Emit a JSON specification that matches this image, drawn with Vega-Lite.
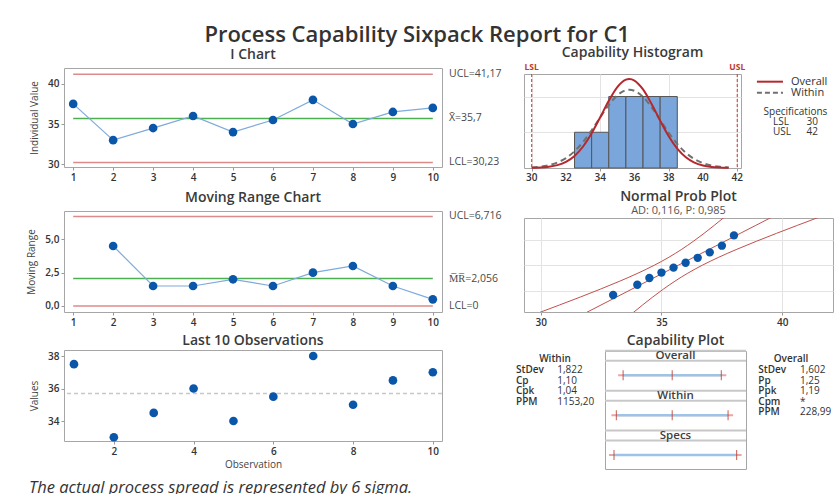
{
"$schema":"https://vega.github.io/schema/vega-lite/v6.json",
"padding":{"left":26,"top":23,"right":5,"bottom":5},
"background":"white",
"title":{"text":"Process Capability Sixpack Report for C1","fontSize":22,"fontWeight":600,"color":"#333","frame":"bounds","anchor":"middle","offset":-1,"dx":-13},
"config":{
 "font":"Open Sans",
 "view":{"stroke":"#a6a6a6","strokeWidth":1},
 "axis":{"labelFont":"Open Sans","labelFontSize":10,"labelFontWeight":600,"labelColor":"#333","titleFont":"Open Sans","titleFontSize":10,"titleFontWeight":"normal","titleColor":"#444","domain":false,"grid":false,"tickColor":"#999","tickSize":3,"labelPadding":2,"titlePadding":4,"gridColor":"#e3e3e3"},
 "axisY":{"titlePadding":8},
 "title":{"font":"Open Sans","fontSize":14,"fontWeight":600,"color":"#3a3a3a","anchor":"middle","frame":"group"},
 "text":{"font":"Open Sans","color":"#333"}
},
"datasets":{
 "obs":[{"obs":1,"value":37.5,"mr":null},{"obs":2,"value":33,"mr":4.5},{"obs":3,"value":34.5,"mr":1.5},{"obs":4,"value":36,"mr":1.5},{"obs":5,"value":34,"mr":2},{"obs":6,"value":35.5,"mr":1.5},{"obs":7,"value":38,"mr":2.5},{"obs":8,"value":35,"mr":3},{"obs":9,"value":36.5,"mr":1.5},{"obs":10,"value":37,"mr":0.5}],
 "ilimits":[{"label":"UCL=41,17","value":41.17,"kind":"ucl"},{"label":"X̄=35,7","value":35.7,"kind":"center"},{"label":"LCL=30,23","value":30.23,"kind":"lcl"}],
 "mrlimits":[{"label":"UCL=6,716","value":6.716,"kind":"ucl"},{"label":"M̅R̅=2,056","value":2.056,"kind":"center"},{"label":"LCL=0","value":0,"kind":"lcl"}],
 "hist":[{"lo":32.5,"hi":33.5,"count":1},{"lo":33.5,"hi":34.5,"count":1},{"lo":34.5,"hi":35.5,"count":2},{"lo":35.5,"hi":36.5,"count":2},{"lo":36.5,"hi":37.5,"count":2},{"lo":37.5,"hi":38.5,"count":2}],
 "histTicks":[{"v":30},{"v":32},{"v":34},{"v":36},{"v":38},{"v":40},{"v":42}],
 "curves":[{"x":30,"overall":0.0044,"within":0.0164},{"x":30.5,"overall":0.0128,"within":0.0373},{"x":31,"overall":0.0337,"within":0.0786},{"x":31.5,"overall":0.0801,"within":0.1536},{"x":32,"overall":0.173,"within":0.2785},{"x":32.5,"overall":0.3387,"within":0.4683},{"x":33,"overall":0.6017,"within":0.7304},{"x":33.5,"overall":0.97,"within":1.0563},{"x":34,"overall":1.4183,"within":1.4169},{"x":34.5,"overall":1.8809,"within":1.7626},{"x":35,"overall":2.2636,"within":2.0338},{"x":35.5,"overall":2.471,"within":2.1764},{"x":35.7,"overall":2.4903,"within":2.1896},{"x":36,"overall":2.447,"within":2.1601},{"x":36.5,"overall":2.1985,"within":1.9884},{"x":37,"overall":1.7915,"within":1.6976},{"x":37.5,"overall":1.3249,"within":1.3442},{"x":38,"overall":0.8885,"within":0.9871},{"x":38.5,"overall":0.5406,"within":0.6722},{"x":39,"overall":0.2984,"within":0.4246},{"x":39.5,"overall":0.1494,"within":0.2487},{"x":40,"overall":0.0679,"within":0.1352},{"x":40.5,"overall":0.028,"within":0.0681},{"x":41,"overall":0.0105,"within":0.0318},{"x":41.5,"overall":0.0036,"within":0.0138}],
 "specs":[{"name":"LSL","value":30},{"name":"USL","value":42}],
 "prob":[{"x":33,"z":-1.497},{"x":34,"z":-0.98},{"x":34.5,"z":-0.645},{"x":35,"z":-0.37},{"x":35.5,"z":-0.121},{"x":36,"z":0.121},{"x":36.5,"z":0.37},{"x":37,"z":0.645},{"x":37.5,"z":0.98},{"x":38,"z":1.497}],
 "band":[{"z":-2.4,"fit":31.855,"lo":29.899,"hi":33.811},{"z":-2.0,"fit":32.496,"lo":30.776,"hi":34.216},{"z":-1.6,"fit":33.137,"lo":31.638,"hi":34.636},{"z":-1.2,"fit":33.778,"lo":32.475,"hi":35.08},{"z":-0.8,"fit":34.418,"lo":33.278,"hi":35.559},{"z":-0.4,"fit":35.059,"lo":34.027,"hi":36.091},{"z":0,"fit":35.7,"lo":34.707,"hi":36.693},{"z":0.4,"fit":36.341,"lo":35.309,"hi":37.373},{"z":0.8,"fit":36.982,"lo":35.841,"hi":38.122},{"z":1.2,"fit":37.622,"lo":36.32,"hi":38.925},{"z":1.6,"fit":38.263,"lo":36.764,"hi":39.763},{"z":2.0,"fit":38.904,"lo":37.184,"hi":40.624},{"z":2.4,"fit":39.545,"lo":37.589,"hi":41.501}],
 "cap":[{"row":"Overall","lo":30.894,"mid":35.7,"hi":40.506},{"row":"Within","lo":30.234,"mid":35.7,"hi":41.166},{"row":"Specs","lo":30,"hi":42}],
 "statsWithin":[{"i":0,"stat":"Within","value":""},{"i":1,"stat":"StDev","value":"1,822"},{"i":2,"stat":"Cp","value":"1,10"},{"i":3,"stat":"Cpk","value":"1,04"},{"i":4,"stat":"PPM","value":"1153,20"}],
 "statsOverall":[{"i":0,"stat":"Overall","value":""},{"i":1,"stat":"StDev","value":"1,602"},{"i":2,"stat":"Pp","value":"1,25"},{"i":3,"stat":"Ppk","value":"1,19"},{"i":4,"stat":"Cpm","value":"*"},{"i":5,"stat":"PPM","value":"228,99"}]
},
"bounds":"flush",
"spacing":460,
"hconcat":[
 {"bounds":"flush","spacing":44,"vconcat":[
  {"width":378,"height":99,"title":{"text":"I Chart","offset":6},
   "layer":[
    {"data":{"name":"obs"},"mark":{"type":"point","filled":true,"opacity":0,"size":1},"encoding":{
      "x":{"field":"obs","type":"quantitative","scale":{"domain":[0.77,10.23],"nice":false,"zero":false},"axis":{"values":[1,2,3,4,5,6,7,8,9,10],"title":null}},
      "y":{"field":"value","type":"quantitative","scale":{"domain":[29.67,41.95],"nice":false,"zero":false},"axis":{"values":[30,35,40],"title":"Individual Value"}}}},
    {"data":{"name":"ilimits"},"mark":{"type":"rule","strokeWidth":1.5},"encoding":{
      "x":{"datum":1,"type":"quantitative"},
      "x2":{"datum":10},
      "y":{"field":"value","type":"quantitative"},
      "color":{"field":"kind","type":"nominal","scale":{"domain":["ucl","center","lcl"],"range":["#dd8a8a","#4cb050","#dd8a8a"]},"legend":null}}},
    {"data":{"name":"ilimits"},"mark":{"type":"text","align":"left","baseline":"middle","dx":7,"fontSize":10.5,"color":"#4a4a4a"},"encoding":{
      "x":{"datum":10.23,"type":"quantitative"},
      "y":{"field":"value","type":"quantitative"},
      "text":{"field":"label"}}},
    {"data":{"name":"obs"},"mark":{"type":"line","color":"#7eaadc","strokeWidth":1.2},"encoding":{
      "x":{"field":"obs","type":"quantitative"},
      "y":{"field":"value","type":"quantitative"}}},
    {"data":{"name":"obs"},"mark":{"type":"point","filled":true,"opacity":1,"size":75,"color":"#0a56a8"},"encoding":{
      "x":{"field":"obs","type":"quantitative"},
      "y":{"field":"value","type":"quantitative"}}}
   ]},
  {"bounds":"flush","spacing":38,"vconcat":[
   {"width":378,"height":101,"title":{"text":"Moving Range Chart","offset":6},
    "layer":[
     {"data":{"name":"obs"},"transform":[{"filter":"isValid(datum.mr)"}],"mark":{"type":"point","filled":true,"opacity":0,"size":1},"encoding":{
       "x":{"field":"obs","type":"quantitative","scale":{"domain":[0.77,10.23],"nice":false,"zero":false},"axis":{"values":[1,2,3,4,5,6,7,8,9,10],"title":null}},
       "y":{"field":"mr","type":"quantitative","scale":{"domain":[-0.45,7.12],"nice":false,"zero":false},"axis":{"values":[0,2.5,5],"labelExpr":"replace(format(datum.value,'.1f'),'.',',')","title":"Moving Range"}}}},
     {"data":{"name":"mrlimits"},"mark":{"type":"rule","strokeWidth":1.5},"encoding":{
       "x":{"datum":1,"type":"quantitative"},
       "x2":{"datum":10},
       "y":{"field":"value","type":"quantitative"},
       "color":{"field":"kind","type":"nominal","scale":{"domain":["ucl","center","lcl"],"range":["#b94a48","#6cc070","#e4a0a0"]},"legend":null}}},
     {"data":{"name":"mrlimits"},"mark":{"type":"text","align":"left","baseline":"middle","dx":7,"fontSize":10.5,"color":"#4a4a4a"},"encoding":{
       "x":{"datum":10.23,"type":"quantitative"},
       "y":{"field":"value","type":"quantitative"},
       "text":{"field":"label"}}},
     {"data":{"name":"obs"},"transform":[{"filter":"isValid(datum.mr)"}],"mark":{"type":"line","color":"#7eaadc","strokeWidth":1.2},"encoding":{
       "x":{"field":"obs","type":"quantitative"},
       "y":{"field":"mr","type":"quantitative"}}},
     {"data":{"name":"obs"},"transform":[{"filter":"isValid(datum.mr)"}],"mark":{"type":"point","filled":true,"opacity":1,"size":75,"color":"#0a56a8"},"encoding":{
       "x":{"field":"obs","type":"quantitative"},
       "y":{"field":"mr","type":"quantitative"}}}
    ]},
   {"width":378,"height":91,"title":{"text":"Last 10 Observations","offset":2},
    "layer":[
     {"data":{"name":"obs"},"mark":{"type":"point","filled":true,"opacity":0,"size":1},"encoding":{
       "x":{"field":"obs","type":"quantitative","scale":{"domain":[0.75,10.23],"nice":false,"zero":false},"axis":{"values":[2,4,6,8,10],"title":"Observation","titlePadding":3}},
       "y":{"field":"value","type":"quantitative","scale":{"domain":[32.77,38.37],"nice":false,"zero":false},"axis":{"values":[34,36,38],"title":"Values"}}}},
     {"data":{"values":[{}]},"mark":{"type":"rule","color":"#c8c8c8","strokeWidth":1.5,"strokeDash":[4,3]},"encoding":{
       "y":{"datum":35.7,"type":"quantitative"}}},
     {"data":{"name":"obs"},"mark":{"type":"point","filled":true,"opacity":1,"size":75,"color":"#0a56a8"},"encoding":{
       "x":{"field":"obs","type":"quantitative"},
       "y":{"field":"value","type":"quantitative"}}},
     {"data":{"values":[{}]},"mark":{"type":"text","text":"The actual process spread is represented by 6 sigma.","align":"left","baseline":"middle","dx":-35,"fontSize":16.5,"fontStyle":"italic","color":"#333"},"encoding":{
       "x":{"datum":0.75,"type":"quantitative"},
       "y":{"datum":29.88,"type":"quantitative"}}}
    ]}
  ]}
 ]},
 {"bounds":"flush","spacing":0,"vconcat":[
  {"width":10,"height":6,"view":{"stroke":null},"data":{"values":[{}]},"mark":{"type":"text","text":""}},
  {"bounds":"flush","spacing":50,"vconcat":[
   {"width":217,"height":94,"title":{"text":"Capability Histogram","offset":3},
    "layer":[
     {"data":{"name":"hist"},"mark":{"type":"bar","fill":"#7aa6db","stroke":"#555","strokeWidth":1},"encoding":{
       "x":{"field":"lo","type":"quantitative","scale":{"domain":[29.55,42.22],"nice":false,"zero":false},"axis":{"values":[30,32,34,36,38,40,42],"grid":true,"labels":false,"title":null}},
       "x2":{"field":"hi"},
       "y":{"field":"count","type":"quantitative","scale":{"domain":[0,2.63],"nice":false,"zero":false},"axis":{"values":[1,2],"grid":true,"labels":false,"ticks":false,"title":null}},
       "y2":{"datum":0}}},
     {"data":{"name":"histTicks"},"mark":{"type":"text","baseline":"top","align":"center","dy":5,"fontSize":10,"fontWeight":600,"color":"#333"},"encoding":{
       "x":{"field":"v","type":"quantitative"},
       "y":{"datum":0,"type":"quantitative"},
       "text":{"field":"v"}}},
     {"data":{"name":"curves"},"mark":{"type":"line","color":"#707070","strokeWidth":2,"strokeDash":[6,4],"interpolate":"monotone"},"encoding":{
       "x":{"field":"x","type":"quantitative"},
       "y":{"field":"within","type":"quantitative"}}},
     {"data":{"name":"curves"},"mark":{"type":"line","color":"#b5282d","strokeWidth":2,"interpolate":"monotone"},"encoding":{
       "x":{"field":"x","type":"quantitative"},
       "y":{"field":"overall","type":"quantitative"}}},
     {"data":{"name":"specs"},"mark":{"type":"rule","color":"#c0392b","strokeWidth":1,"strokeDash":[3,2]},"encoding":{
       "x":{"field":"value","type":"quantitative"}}},
     {"data":{"name":"specs"},"mark":{"type":"text","baseline":"bottom","align":"center","dy":-2,"fontSize":8.5,"fontWeight":"bold","color":"#c0392b"},"encoding":{
       "x":{"field":"value","type":"quantitative"},
       "y":{"datum":2.63,"type":"quantitative"},
       "text":{"field":"name"}}},
     {"data":{"values":[{}]},"mark":{"type":"rule","color":"#b5282d","strokeWidth":2},"encoding":{
       "x":{"datum":43.15,"type":"quantitative"},"x2":{"datum":44.67},
       "y":{"datum":2.415,"type":"quantitative"}}},
     {"data":{"values":[{}]},"mark":{"type":"rule","color":"#707070","strokeWidth":2,"strokeDash":[5,3]},"encoding":{
       "x":{"datum":43.15,"type":"quantitative"},"x2":{"datum":44.67},
       "y":{"datum":2.107,"type":"quantitative"}}},
     {"data":{"values":[{}]},"mark":{"type":"text","text":"Overall","align":"left","baseline":"middle","fontSize":11},"encoding":{
       "x":{"datum":45.14,"type":"quantitative"},"y":{"datum":2.415,"type":"quantitative"}}},
     {"data":{"values":[{}]},"mark":{"type":"text","text":"Within","align":"left","baseline":"middle","fontSize":11},"encoding":{
       "x":{"datum":45.14,"type":"quantitative"},"y":{"datum":2.107,"type":"quantitative"}}},
     {"data":{"values":[{}]},"mark":{"type":"text","text":"Specifications","align":"center","baseline":"middle","fontSize":10},"encoding":{
       "x":{"datum":45.4,"type":"quantitative"},"y":{"datum":1.575,"type":"quantitative"}}},
     {"data":{"values":[{}]},"mark":{"type":"text","text":"LSL","align":"left","baseline":"middle","fontSize":10},"encoding":{
       "x":{"datum":44.09,"type":"quantitative"},"y":{"datum":1.3,"type":"quantitative"}}},
     {"data":{"values":[{}]},"mark":{"type":"text","text":"30","align":"right","baseline":"middle","fontSize":10},"encoding":{
       "x":{"datum":46.71,"type":"quantitative"},"y":{"datum":1.3,"type":"quantitative"}}},
     {"data":{"values":[{}]},"mark":{"type":"text","text":"USL","align":"left","baseline":"middle","fontSize":10},"encoding":{
       "x":{"datum":44.09,"type":"quantitative"},"y":{"datum":1.02,"type":"quantitative"}}},
     {"data":{"values":[{}]},"mark":{"type":"text","text":"42","align":"right","baseline":"middle","fontSize":10},"encoding":{
       "x":{"datum":46.71,"type":"quantitative"},"y":{"datum":1.02,"type":"quantitative"}}}
    ]},
   {"bounds":"flush","spacing":39,"vconcat":[
    {"width":309,"height":94,"title":{"text":"Normal Prob Plot","subtitle":"AD: 0,116, P: 0,985","offset":2,"subtitleFontSize":11,"subtitleColor":"#555","subtitleFontWeight":"normal","subtitlePadding":1},
     "layer":[
      {"data":{"name":"prob"},"mark":{"type":"point","filled":true,"opacity":0,"size":1},"encoding":{
        "x":{"field":"x","type":"quantitative","scale":{"domain":[29.31,42.1],"nice":false,"zero":false},"axis":{"values":[30,35,40],"grid":true,"title":null}},
        "y":{"field":"z","type":"quantitative","scale":{"domain":[-2.35,2.37],"nice":false,"zero":false},"axis":{"values":[-1.2816,0,1.2816],"grid":true,"labels":false,"ticks":false,"title":null}}}},
      {"data":{"name":"band"},"mark":{"type":"line","clip":true,"color":"#c0504d","strokeWidth":1,"interpolate":"monotone"},"encoding":{
        "x":{"field":"lo","type":"quantitative"},
        "y":{"field":"z","type":"quantitative"}}},
      {"data":{"name":"band"},"mark":{"type":"line","clip":true,"color":"#c0504d","strokeWidth":1,"interpolate":"monotone"},"encoding":{
        "x":{"field":"hi","type":"quantitative"},
        "y":{"field":"z","type":"quantitative"}}},
      {"data":{"name":"band"},"mark":{"type":"line","clip":true,"color":"#c0504d","strokeWidth":1,"interpolate":"monotone"},"encoding":{
        "x":{"field":"fit","type":"quantitative"},
        "y":{"field":"z","type":"quantitative"}}},
      {"data":{"name":"prob"},"mark":{"type":"point","filled":true,"opacity":1,"size":70,"color":"#0a56a8"},"encoding":{
        "x":{"field":"x","type":"quantitative"},
        "y":{"field":"z","type":"quantitative"}}}
     ]},
    {"bounds":"flush","spacing":0,"hconcat":[
     {"width":81,"height":118,"view":{"stroke":null},"data":{"name":"statsWithin"},
      "encoding":{"y":{"field":"i","type":"ordinal","scale":{"type":"point","domain":[0,1,2,3,4,5],"range":[8.3,61.3],"padding":0},"axis":null}},
      "layer":[
       {"transform":[{"filter":"datum.i == 0"}],"mark":{"type":"text","align":"center","baseline":"middle","dx":-9.5,"fontSize":10,"fontWeight":600},"encoding":{"text":{"field":"stat"}}},
       {"transform":[{"filter":"datum.i > 0"}],"mark":{"type":"text","align":"left","baseline":"middle","dx":-48.5,"fontSize":10,"fontWeight":600},"encoding":{"text":{"field":"stat"}}},
       {"transform":[{"filter":"datum.i > 0"}],"mark":{"type":"text","align":"left","baseline":"middle","dx":-7.2,"fontSize":10},"encoding":{"text":{"field":"value"}}}
      ]},
     {"width":141,"height":118,"title":{"text":"Capability Plot","offset":2},"data":{"name":"cap"},
      "layer":[
       {"mark":{"type":"rule","color":"#c8c8c8","strokeWidth":2,"yOffset":-24.5},"encoding":{
         "x":{"datum":29.12,"type":"quantitative","scale":{"domain":[29.12,42.92],"nice":false,"zero":false},"axis":null},"x2":{"datum":42.92},
         "y":{"field":"row","type":"nominal","scale":{"type":"point","domain":["Overall","Within","Specs"],"range":[24.3,104],"padding":0},"axis":null}}},
       {"mark":{"type":"rule","color":"#c8c8c8","strokeWidth":2,"yOffset":-14.5},"encoding":{
         "x":{"datum":29.12,"type":"quantitative","scale":{"domain":[29.12,42.92],"nice":false,"zero":false},"axis":null},"x2":{"datum":42.92},
         "y":{"field":"row","type":"nominal","scale":{"type":"point","domain":["Overall","Within","Specs"],"range":[24.3,104],"padding":0},"axis":null}}},
       {"mark":{"type":"text","dy":-19.5,"baseline":"middle","align":"center","fontSize":11.5,"fontWeight":600,"color":"#404040"},"encoding":{
         "y":{"field":"row","type":"nominal","scale":{"type":"point","domain":["Overall","Within","Specs"],"range":[24.3,104],"padding":0},"axis":null},
         "text":{"field":"row"}}},
       {"mark":{"type":"rule","color":"#eaa5a5","strokeWidth":2,"xOffset":-5,"x2Offset":5},"encoding":{
         "x":{"field":"lo","type":"quantitative","scale":{"domain":[29.12,42.92],"nice":false,"zero":false},"axis":null},"x2":{"field":"hi"},
         "y":{"field":"row","type":"nominal","scale":{"type":"point","domain":["Overall","Within","Specs"],"range":[24.3,104],"padding":0},"axis":null}}},
       {"mark":{"type":"rule","color":"#9dc3e6","strokeWidth":2.5},"encoding":{
         "x":{"field":"lo","type":"quantitative","scale":{"domain":[29.12,42.92],"nice":false,"zero":false},"axis":null},"x2":{"field":"hi"},
         "y":{"field":"row","type":"nominal","scale":{"type":"point","domain":["Overall","Within","Specs"],"range":[24.3,104],"padding":0},"axis":null}}},
       {"transform":[{"fold":["lo","mid","hi"],"as":["k","v"]},{"filter":"isValid(datum.v)"}],"mark":{"type":"tick","color":"#c0392b","thickness":1.2,"size":10,"orient":"vertical"},"encoding":{
         "x":{"field":"v","type":"quantitative","scale":{"domain":[29.12,42.92],"nice":false,"zero":false},"axis":null},
         "y":{"field":"row","type":"nominal","scale":{"type":"point","domain":["Overall","Within","Specs"],"range":[24.3,104],"padding":0},"axis":null}}}
      ]},
     {"width":88,"height":118,"view":{"stroke":null},"data":{"name":"statsOverall"},
      "encoding":{"y":{"field":"i","type":"ordinal","scale":{"type":"point","domain":[0,1,2,3,4,5],"range":[8.3,61.3],"padding":0},"axis":null}},
      "layer":[
       {"transform":[{"filter":"datum.i == 0"}],"mark":{"type":"text","align":"center","baseline":"middle","dx":1,"fontSize":10,"fontWeight":600},"encoding":{"text":{"field":"stat"}}},
       {"transform":[{"filter":"datum.i > 0"}],"mark":{"type":"text","align":"left","baseline":"middle","dx":-31.7,"fontSize":10,"fontWeight":600},"encoding":{"text":{"field":"stat"}}},
       {"transform":[{"filter":"datum.i > 0"}],"mark":{"type":"text","align":"left","baseline":"middle","dx":10,"fontSize":10},"encoding":{"text":{"field":"value"}}}
      ]}
    ]}
   ]}
  ]}
 ]}
]
}
